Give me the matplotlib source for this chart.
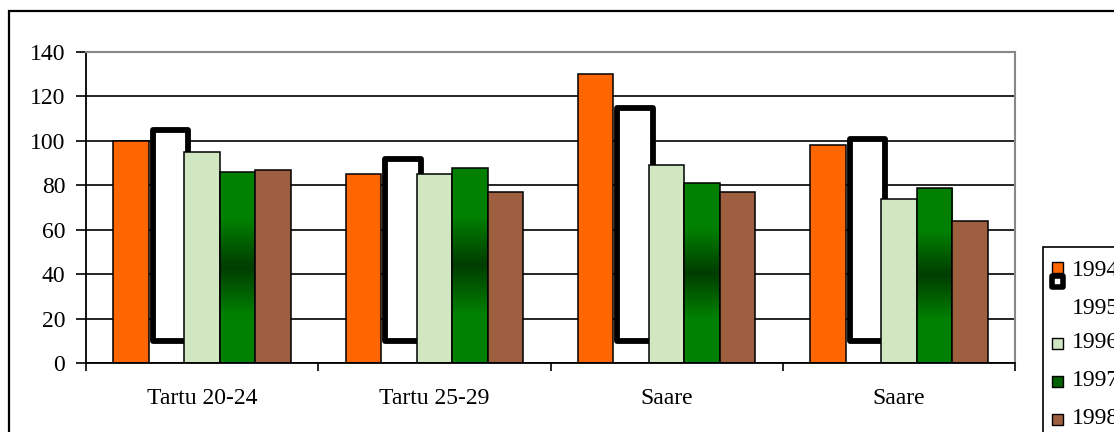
import matplotlib
matplotlib.use('Agg')
import matplotlib.pyplot as plt
import matplotlib.transforms as mtransforms
from matplotlib.colors import LinearSegmentedColormap
from matplotlib.patches import Rectangle
import numpy as np

categories = ['Tartu 20-24', 'Tartu 25-29', 'Saare', 'Saare']
years = ['1994', '1995', '1996', '1997', '1998']
v1994 = [100, 85, 130, 98]
v1995 = [105, 92, 115, 101]
v1996 = [95, 85, 89, 74]
v1997 = [86, 88, 81, 79]
v1998 = [87, 77, 77, 64]
base_1995 = 10
yticks = [0, 20, 40, 60, 80, 100, 120, 140]

plt.rcParams['font.family'] = ['Liberation Serif', 'DejaVu Serif']
FS = 17

W, H = 1114, 432


def fx(px):
    return px / W


def fy(py):
    return 1 - py / H


def main():
    fig = plt.figure(figsize=(W / 100, H / 100), dpi=100)
    ax = fig.add_axes([fx(86), fy(363), fx(1015) - fx(86), fy(52) - fy(363)])

    x = np.arange(len(categories))
    w = 0.153

    ax.bar(x - 2 * w, v1994, w, color='#FF6600', edgecolor='black', linewidth=1.1, zorder=2)

    # 1995 drawn as a thick floating outline, nudged a few pixels right
    shift = mtransforms.ScaledTranslation(4 / 100, 0, fig.dpi_scale_trans)
    heights = [v - base_1995 for v in v1995]
    bars95 = ax.bar(x - w, heights, w, bottom=base_1995, color='white', edgecolor='black',
                    linewidth=4.2, zorder=2.1, transform=ax.transData + shift)
    for b in bars95:
        b.set_joinstyle('round')

    ax.bar(x, v1996, w, color='#D0E7C1', edgecolor='black', linewidth=1.1, zorder=2.2)

    green = LinearSegmentedColormap.from_list('g', ['#008000', '#008000', '#003D00', '#008000', '#008000'])
    grad = np.linspace(0, 1, 256).reshape(-1, 1)
    bars97 = ax.bar(x + w, v1997, w, facecolor='none', edgecolor='black', linewidth=1.1, zorder=2.35)
    for b in bars97:
        x0 = b.get_x()
        im = ax.imshow(grad, extent=(x0, x0 + b.get_width(), 0, b.get_height()), cmap=green,
                       aspect='auto', origin='lower', zorder=2.3, interpolation='bilinear')
        im.set_clip_path(b)

    ax.bar(x + 2 * w, v1998, w, color='#9E5F40', edgecolor='black', linewidth=1.1, zorder=2.4)

    ax.set_xlim(-0.5, len(categories) - 0.5)
    ax.set_ylim(0, 140)

    ax.set_yticks(yticks)
    ax.set_yticklabels([str(t) for t in yticks])
    ax.yaxis.grid(True, color='black', linewidth=1.2)
    ax.set_axisbelow(True)

    ax.set_xticks(np.arange(len(categories) + 1) - 0.5)
    ax.set_xticklabels([])
    ax.set_xticks(x, minor=True)
    ax.set_xticklabels(categories, minor=True)
    ax.tick_params(axis='x', which='major', direction='out', length=6, width=1.2)
    ax.tick_params(axis='x', which='minor', length=0, pad=18, labelsize=FS)
    ax.tick_params(axis='y', direction='out', length=7, width=1.2, pad=8, labelsize=FS)

    for side in ['left', 'bottom']:
        ax.spines[side].set_color('black')
        ax.spines[side].set_linewidth(1.3)
    for side in ['top', 'right']:
        ax.spines[side].set_color('#888888')
        ax.spines[side].set_linewidth(1.5)

    # outer chart border
    fig.patches.append(Rectangle((fx(9), fy(500)), fx(1300) - fx(9), fy(11) - fy(500),
                                 transform=fig.transFigure, fill=False, edgecolor='black',
                                 linewidth=1.6))

    # legend box (runs off the right edge as in the original)
    fig.patches.append(Rectangle((fx(1043), fy(500)), fx(1300) - fx(1043), fy(247) - fy(500),
                                 transform=fig.transFigure, fill=False, edgecolor='black',
                                 linewidth=1.2))
    swatches = [
        dict(face='#FF6600', lw=1.0, y=267.5, size=11, ty=270),
        dict(face='white', lw=4.0, y=281, size=11, ty=308),
        dict(face='#D0E7C1', lw=1.0, y=343.5, size=11, ty=343),
        dict(face='#006000', lw=1.0, y=381, size=11, ty=381),
        dict(face='#9E5F40', lw=1.0, y=419, size=11, ty=419),
    ]
    for year, s in zip(years, swatches):
        half = s['size'] / 2
        fig.patches.append(Rectangle((fx(1057.5 - half), fy(s['y'] + half)), s['size'] / W, s['size'] / H,
                                     transform=fig.transFigure, facecolor=s['face'],
                                     edgecolor='black', linewidth=s['lw'], joinstyle='round'))
        fig.text(fx(1072), fy(s['ty']), year, fontsize=FS, va='center', ha='left')

    fig.savefig('out.png', dpi=100)


if __name__ == '__main__':
    main()
